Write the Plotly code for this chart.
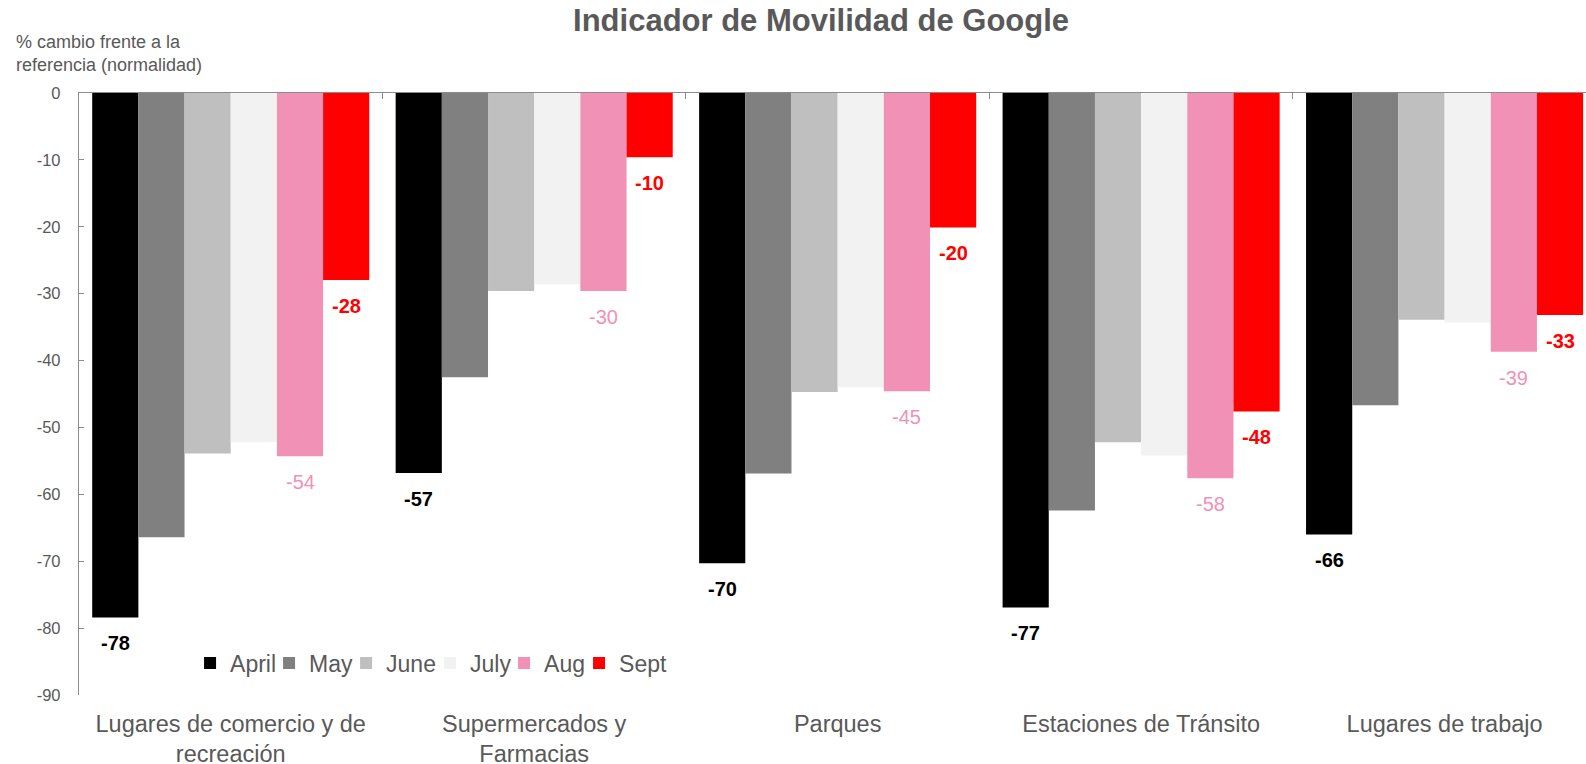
import plotly.graph_objects as go

categories = ["Lugares de comercio y de<br>recreación", "Supermercados y<br>Farmacias",
              "Parques", "Estaciones de Tránsito", "Lugares de trabajo"]
months = ["April", "May", "June", "July", "Aug", "Sept"]
april = [-78.4, -56.8, -70.3, -76.9, -66.0]
may = [-66.4, -42.5, -56.9, -62.4, -46.7]
june = [-53.9, -29.6, -44.7, -52.2, -33.9]
july = [-52.2, -28.6, -44.0, -54.2, -34.3]
aug = [-54.3, -29.6, -44.6, -57.6, -38.7]
sept = [-27.95, -9.6, -20.1, -47.6, -33.2]
y_ticks = [0, -10, -20, -30, -40, -50, -60, -70, -80, -90]
y_tick_labels = [str(v) for v in y_ticks]

series = [april, may, june, july, aug, sept]
colors = ["#000000", "#808080", "#BFBFBF", "#F2F2F2", "#F191B6", "#FF0000"]
legend_widths = [34, 32, 39, 29, 30, 50]
labelled = {0: ("#000000", True), 4: ("#F191B6", False), 5: ("#FF0000", True)}

FONT = "Arial, Liberation Sans, sans-serif"
GRAY = "#595959"
AXIS = "#8C8C8C"
BARGAP = 0.087

fig = go.Figure()
for i, (name, vals) in enumerate(zip(months, series)):
    fig.add_trace(go.Bar(
        x=categories, y=vals, name=name,
        marker=dict(color=colors[i], line=dict(width=0)),
        legendwidth=legend_widths[i],
        hoverinfo="y+name",
    ))

# invisible helper trace for the top axis (category boundary ticks)
fig.add_trace(go.Scatter(x=categories, y=[None] * len(categories), xaxis="x2",
                         mode="markers", showlegend=False, hoverinfo="skip"))

# value labels under bar ends, positioned from the data and bar layout
n = len(series)
bw = (1 - BARGAP) / n
annotations = []
for i, (col, bold) in labelled.items():
    for k, v in enumerate(series[i]):
        xpos = k - (1 - BARGAP) / 2 + (i + 0.5) * bw
        txt = f"{round(v):d}"
        annotations.append(dict(
            x=xpos, y=v, xref="x", yref="y", text=f"<b>{txt}</b>" if bold else txt,
            showarrow=False, yanchor="middle", xanchor="center", yshift=-26,
            font=dict(family=FONT, size=20, color=col),
        ))

annotations.append(dict(
    text="% cambio frente a la<br>referencia (normalidad)", xref="paper", yref="paper",
    x=-0.0431, y=1.0656, xanchor="left", yanchor="middle", align="left",
    showarrow=False, font=dict(family=FONT, size=18, color=GRAY),
))

fig.update_layout(
    width=1586, height=764,
    margin=dict(l=79, r=0, t=93, b=69, autoexpand=False),
    paper_bgcolor="white", plot_bgcolor="white",
    barmode="group", bargap=BARGAP, bargroupgap=0,
    font=dict(family=FONT, color=GRAY),
    title=dict(text="<b>Indicador de Movilidad de Google</b>", x=0.5177, xref="container",
               xanchor="center", y=0.974, yref="container", yanchor="middle",
               font=dict(family=FONT, size=31, color=GRAY)),
    legend=dict(orientation="h", x=0.0737, y=0.0532, xanchor="left", yanchor="middle",
                font=dict(family=FONT, size=23, color=GRAY), bgcolor="rgba(0,0,0,0)",
                traceorder="normal"),
    xaxis=dict(type="category", categoryorder="array", categoryarray=categories,
               range=[-0.5, 4.466], showline=False, ticks="", showgrid=False,
               automargin=False,
               tickfont=dict(family=FONT, size=23.5, color=GRAY), ticklabelstandoff=12),
    xaxis2=dict(type="category", categoryorder="array", categoryarray=categories,
                overlaying="x", side="top", anchor="y", matches="x", automargin=False,
                showline=True, linecolor=AXIS, linewidth=1.3,
                ticks="inside", tickson="boundaries", ticklen=6, tickcolor=AXIS,
                showticklabels=False, showgrid=False),
    yaxis=dict(range=[-90, 0], tickvals=y_ticks, ticktext=y_tick_labels,
               showgrid=False, zeroline=False, automargin=False,
               showline=True, linecolor=AXIS, linewidth=1.3, ticks="inside", ticklen=5,
               tickcolor=AXIS, tickfont=dict(family=FONT, size=16.5, color=GRAY),
               ticklabelstandoff=14),
    annotations=annotations,
    showlegend=True,
)

fig.write_html("out.html", config={"displayModeBar": False},
               post_script="document.body.style.margin='0';")
